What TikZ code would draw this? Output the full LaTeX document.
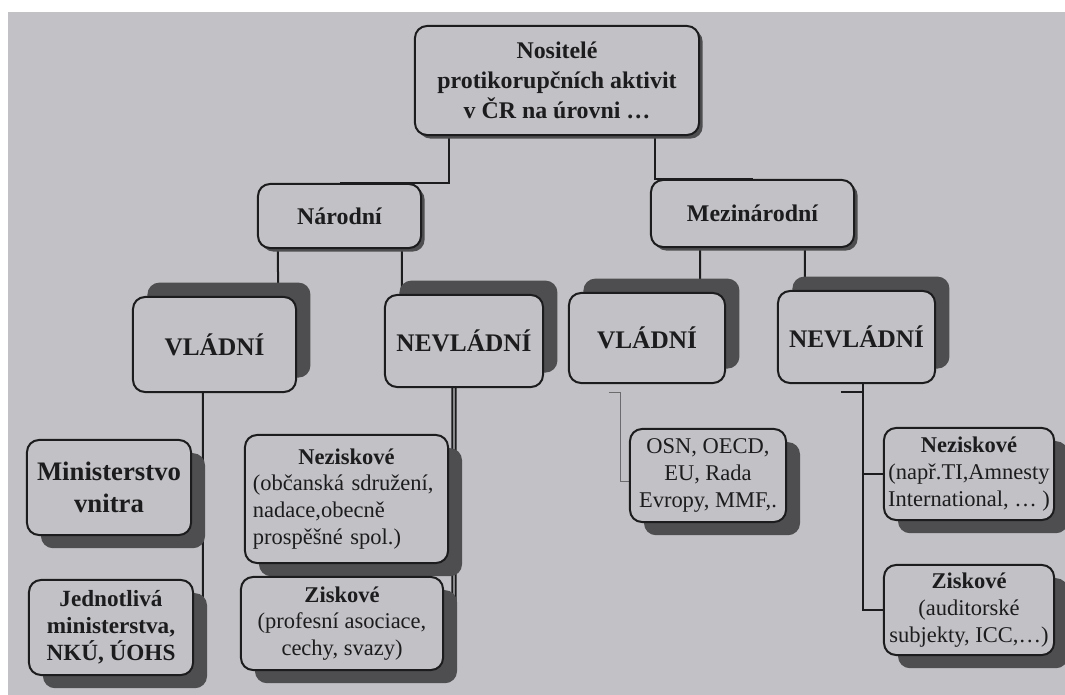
\documentclass[tikz,border=0pt]{standalone}
\usepackage{fontspec}
\setmainfont{Liberation Serif}
\usetikzlibrary{shadows,backgrounds}
\definecolor{paper}{RGB}{194,194,198}
\definecolor{shade}{RGB}{78,78,80}
\definecolor{ink}{RGB}{28,28,30}

\begin{document}
\begin{tikzpicture}[x=0.025cm,y=-0.025cm,
  box/.style={draw=ink,fill=paper,rounded corners=0.3cm,line width=0.05cm,align=center,inner sep=0pt,text=ink},
  headbox/.style={box,font=\fontsize{17}{21.3}\selectfont\bfseries,drop shadow={fill=shade,opacity=1,shadow xshift=0.09cm,shadow yshift=-0.09cm}},
  kindbox/.style={box,font=\fontsize{18}{22}\selectfont\bfseries,drop shadow={fill=shade,opacity=1,shadow xshift=0.36cm,shadow yshift=0.36cm}},
  leafbox/.style={box,font=\fontsize{16}{19.1}\selectfont,drop shadow={fill=shade,opacity=1,shadow xshift=0.35cm,shadow yshift=-0.33cm}},
  link/.style={draw=ink,line width=0.05cm},
  thinlink/.style={draw=ink!65,line width=0.025cm}]
\useasboundingbox (0,0) rectangle (1065,695);
\node[headbox,minimum width=7.1cm,minimum height=2.725cm] (top) at (557,80.5) {Nositelé\\protikorupčních aktivit\\v ČR na úrovni …};
\node[headbox,minimum width=4.075cm,minimum height=1.6cm] (nar) at (339.5,216) {Národní};
\node[headbox,minimum width=5.075cm,minimum height=1.675cm] (mez) at (752.5,213.5) {Mezinárodní};
\node[kindbox,minimum width=4.075cm,minimum height=2.375cm] (vl1) at (214.5,344.5) {VLÁDNÍ};
\node[kindbox,minimum width=3.95cm,minimum height=2.3cm] (nev1) at (464,341) {NEVLÁDNÍ};
\node[kindbox,minimum width=3.9cm,minimum height=2.25cm] (vl2) at (647,338) {VLÁDNÍ};
\node[kindbox,minimum width=3.925cm,minimum height=2.3cm] (nev2) at (856.5,337) {NEVLÁDNÍ};
\node[leafbox,font=\fontsize{19}{22.7}\selectfont\bfseries,minimum width=4.1cm,minimum height=2.375cm] (min) at (109,487.5) {Ministerstvo\\vnitra};
\node[leafbox,font=\fontsize{16.5}{19.1}\selectfont\bfseries,minimum width=4.1cm,minimum height=2.375cm] (jed) at (111,627.5) {Jednotlivá\\ministerstva,\\NKÚ, ÚOHS};
\node[leafbox,align=left,text width=4.675cm,minimum width=5.075cm,minimum height=3.2cm] (nez1) at (346.5,499) {\makebox[4.675cm]{\bfseries Neziskové}\\(občanská sdružení,\\nadace,obecně\\prospěšné spol.)};
\node[leafbox,minimum width=5.05cm,minimum height=2.325cm] (zis1) at (342,623.5) {\textbf{Ziskové}\\(profesní asociace,\\cechy, svazy)};
\node[leafbox,minimum width=3.9cm,minimum height=2.325cm] (osn) at (708,475.5) {OSN, OECD,\\EU, Rada\\Evropy, MMF,.};
\node[leafbox,minimum width=4.25cm,minimum height=2.3cm] (nez2) at (969,474) {\textbf{Neziskové}\\(např.TI,Amnesty\\International, … )};
\node[leafbox,minimum width=4.25cm,minimum height=2.25cm] (zis2) at (969,610) {\textbf{Ziskové}\\(auditorské\\subjekty, ICC,…)};
\coordinate (vl1end) at (203,607);
\coordinate (nev1end) at (454,610);
\begin{pgfonlayer}{background}
\fill[paper] (8,12) rectangle (1065,695);
\draw[link] ([xshift=-2.7cm]top.south) |- (nar.north);
\draw[link] ([xshift=2.45cm]top.south) |- (mez.north);
\draw[link] ([xshift=-1.54cm]nar.south) -- ([xshift=1.59cm]vl1.north);
\draw[link] ([xshift=1.56cm]nar.south) -- ([xshift=-1.55cm]nev1.north);
\draw[link] ([xshift=-1.31cm]mez.south) -- ([xshift=1.33cm]vl2.north);
\draw[link] ([xshift=1.31cm]mez.south) -- ([xshift=-1.29cm]nev2.north);
\draw[link] ([xshift=-.29cm]vl1.south) -- (vl1end);
\draw[link,double=paper,double distance=0.035cm] ([xshift=-.25cm]nev1.south) -- (nev1end);
\draw[thinlink] ([xshift=-.95cm,yshift=-.2cm]vl2.south) -| ([xshift=-.2cm,yshift=-.16cm]osn.west) -- ([yshift=-.16cm]osn.west);
\draw[link] ([xshift=.16cm]nev2.south) |- (zis2.west);
\draw[link] ([xshift=-.525cm]nez2.west) -- (nez2.west);
\draw[link] ([xshift=-.39cm,yshift=-.2cm]nev2.south) -- ++(22,0);
\end{pgfonlayer}
\end{tikzpicture}
\end{document}
